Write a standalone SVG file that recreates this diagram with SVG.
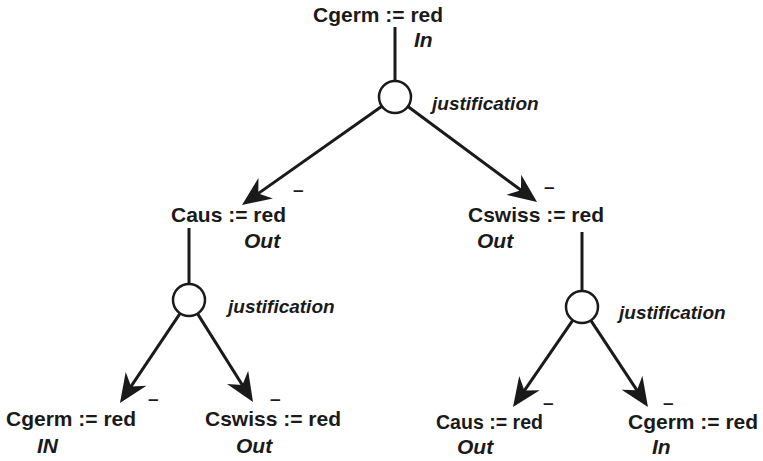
<svg xmlns="http://www.w3.org/2000/svg" width="763" height="461" viewBox="0 0 763 461">
<defs>
<style>
.lbl{font-family:"Liberation Sans",Arial,sans-serif;font-weight:bold;font-size:21px;fill:#1a1a1a}
.st{font-family:"Liberation Sans",Arial,sans-serif;font-weight:bold;font-style:italic;font-size:21px;fill:#1a1a1a}
.just{font-family:"Liberation Sans",Arial,sans-serif;font-weight:bold;font-style:italic;font-size:19px;fill:#1a1a1a}
.dash{font-family:"Liberation Sans",Arial,sans-serif;font-weight:bold;font-size:19px;fill:#1a1a1a}
.edge{stroke:#1a1a1a;stroke-width:3;fill:none}
.arr{marker-end:url(#ah)}
.jc{fill:#fff;stroke:#1a1a1a;stroke-width:2.5}
</style>
<marker id="ah" markerUnits="userSpaceOnUse" markerWidth="30" markerHeight="26" refX="16" refY="13" orient="auto">
<path d="M29,13 L0,0.5 L9,13 L0,25.5 Z" fill="#1a1a1a"/>
</marker>
</defs>
<g id="connectors">
<line class="edge" x1="395" y1="27" x2="395" y2="81"/>
<path class="edge arr" d="M381.9,106.2 L252.6,197.5"/>
<path class="edge arr" d="M407.9,106.5 L526.6,194.3"/>
<line class="edge" x1="189" y1="228" x2="189" y2="284"/>
<path class="edge arr" d="M180.1,313.3 L127.2,392.2"/>
<path class="edge arr" d="M197.5,313.6 L246.1,391"/>
<line class="edge" x1="582" y1="232" x2="582" y2="291"/>
<path class="edge arr" d="M572.9,320.2 L520.4,396.3"/>
<path class="edge arr" d="M590.8,320.4 L640.8,396.1"/>
<text class="dash" x="293" y="195.5">–</text>
<text class="dash" x="544" y="192.5">–</text>
<text class="dash" x="148" y="404.5">–</text>
<text class="dash" x="270" y="404.5">–</text>
<text class="dash" x="543" y="409">–</text>
<text class="dash" x="663" y="409">–</text>
</g>
<g id="n-root">
<text class="lbl" x="313" y="22">Cgerm := red</text>
<text class="st" x="414" y="47">In</text>
</g>
<g id="j-root">
<circle class="jc" cx="395" cy="97" r="16"/>
<text class="just" x="432" y="110">justification</text>
</g>
<g id="n-caus">
<text class="lbl" x="171" y="222">Caus := red</text>
<text class="st" x="244" y="248">Out</text>
</g>
<g id="j-caus">
<circle class="jc" cx="189" cy="300" r="16"/>
<text class="just" x="228" y="313">justification</text>
</g>
<g id="n-cswiss">
<text class="lbl" x="468" y="222">Cswiss := red</text>
<text class="st" x="477" y="248">Out</text>
</g>
<g id="j-cswiss">
<circle class="jc" cx="582" cy="307" r="16"/>
<text class="just" x="619" y="319">justification</text>
</g>
<g id="n-cgerm-l">
<text class="lbl" x="6" y="426">Cgerm := red</text>
<text class="st" x="37" y="453">IN</text>
</g>
<g id="n-cswiss-l">
<text class="lbl" x="205" y="426">Cswiss := red</text>
<text class="st" x="236" y="453">Out</text>
</g>
<g id="n-caus-r">
<text class="lbl" x="436" y="429" textLength="107" lengthAdjust="spacingAndGlyphs">Caus := red</text>
<text class="st" x="457" y="454">Out</text>
</g>
<g id="n-cgerm-r">
<text class="lbl" x="628" y="429">Cgerm := red</text>
<text class="st" x="652" y="454">In</text>
</g>
</svg>
